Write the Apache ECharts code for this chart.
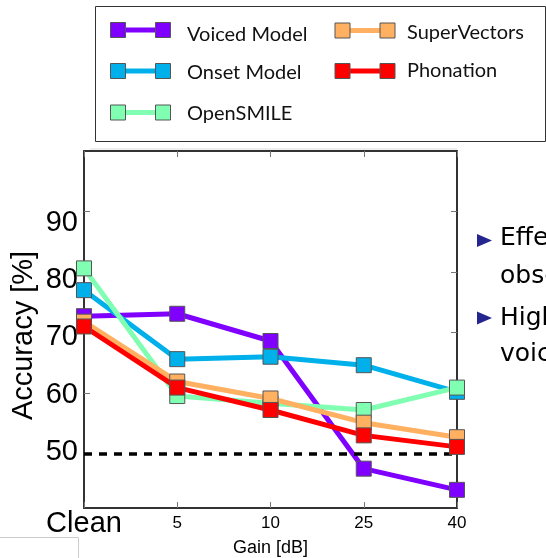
<!DOCTYPE html>
<html>
<head>
<meta charset="utf-8">
<script src="https://cdn.jsdelivr.net/npm/echarts@6/dist/echarts.min.js"></script>
<style>
  html, body { margin: 0; padding: 0; background: #fff; }
  #chart { width: 546px; height: 558px; }
</style>
</head>
<body>
<div id="chart"></div>
<script>
// gain conditions on the x axis
var categories = ['Clean', '5', '10', '25', '40'];

// accuracy [%] per model
var voicedModel = [72.7, 73.1, 68.6, 47.5, 44.0];
var onsetModel = [77.0, 65.6, 66.0, 64.6, 60.2];
var openSmile = [80.6, 59.5, 58.3, 57.2, 60.9];
var superVectors = [71.8, 61.9, 59.1, 55.1, 52.7];
var phonation = [71.0, 60.9, 57.2, 53.0, 51.1];

var chanceLevel = 50;
var yTicks = [50, 60, 70, 80, 90];

var seriesNames = ['Voiced Model', 'Onset Model', 'OpenSMILE', 'SuperVectors', 'Phonation'];
var seriesData = [voicedModel, onsetModel, openSmile, superVectors, phonation];
var colors = ['#7f00ff', '#00b0ea', '#80ffb3', '#ffb060', '#ff0000'];

var axisFont = 'Liberation Sans, Arial, sans-serif';
var axisLineStyle = { color: '#333', width: 2 };
var tickStyle = { color: '#777', width: 1 };

var chart = echarts.init(document.getElementById('chart'));

var series = seriesData.map(function (d, i) {
  var s = {
    name: seriesNames[i],
    type: 'line',
    data: d,
    symbol: 'rect',
    symbolSize: 15,
    z: 3 + i,
    lineStyle: { width: 5, color: colors[i] },
    itemStyle: { color: colors[i], borderColor: '#555', borderWidth: 1 }
  };
  if (i === 0) {
    s.markLine = {
      silent: true,
      symbol: ['none', 'none'],
      label: { show: false },
      lineStyle: { type: [8, 7], color: '#000', width: 3.5 },
      data: [{ yAxis: chanceLevel }]
    };
  }
  return s;
});

// legend drawn as graphic (two squares joined by a bar, like the slide)
var legendPos = [
  { x: 110.5, y: 30, tx: 187, ty: 35 },
  { x: 110.5, y: 71, tx: 187, ty: 72.5 },
  { x: 110.5, y: 112.5, tx: 187, ty: 114 },
  { x: 335, y: 30.5, tx: 407, ty: 32.5 },
  { x: 335, y: 71, tx: 407, ty: 71 }
];
var graphics = [
  { type: 'line', shape: { x1: 90, y1: 149, x2: 457, y2: 149 }, style: { stroke: '#ddd', lineWidth: 1 } },
  { type: 'polyline', shape: { points: [[0, 537.5], [78.5, 537.5], [78.5, 558]] }, style: { stroke: '#ccc', lineWidth: 1, fill: null } },
  { type: 'rect', shape: { x: 95.5, y: 6.5, width: 450, height: 135 }, style: { fill: '#fff', stroke: '#333', lineWidth: 1 } }
];
legendPos.forEach(function (p, i) {
  graphics.push({ type: 'rect', z: 10, shape: { x: p.x + 15, y: p.y - 2.5, width: 30, height: 5 }, style: { fill: colors[i] } });
  graphics.push({ type: 'rect', z: 11, shape: { x: p.x, y: p.y - 7.5, width: 15, height: 15 }, style: { fill: colors[i], stroke: '#555', lineWidth: 1 } });
  graphics.push({ type: 'rect', z: 11, shape: { x: p.x + 45, y: p.y - 7.5, width: 15, height: 15 }, style: { fill: colors[i], stroke: '#555', lineWidth: 1 } });
  graphics.push({ type: 'text', z: 11, style: { text: seriesNames[i], x: p.tx, y: p.ty, font: '20px Lato, sans-serif', fill: '#111', verticalAlign: 'middle' } });
});
// bullet text on the right of the slide (cut off by the crop)
var bullets = [
  { ty: 240.5, lines: [['Effect', 238], ['observed', 276]] },
  { ty: 318, lines: [['Higher', 318], ['voiced', 354.5]] }
];
bullets.forEach(function (b) {
  graphics.push({ type: 'polygon', shape: { points: [[477, b.ty - 6.5], [492, b.ty], [477, b.ty + 6.5]] }, style: { fill: '#25258f' } });
  b.lines.forEach(function (l) {
    graphics.push({ type: 'text', style: { text: l[0], x: 500, y: l[1], font: '25px "DejaVu Sans", sans-serif', fill: '#000', verticalAlign: 'middle' } });
  });
});

var option = {
  animation: false,
  backgroundColor: '#fff',
  grid: { left: 84, top: 151, width: 373, height: 357, containLabel: false, outerBoundsMode: 'none' },
  xAxis: [
    {
      type: 'category',
      data: categories,
      boundaryGap: false,
      axisLine: { lineStyle: axisLineStyle },
      axisTick: { inside: true, length: 6, lineStyle: tickStyle },
      axisLabel: {
        interval: 0,
        margin: 7,
        fontFamily: axisFont,
        fontSize: 17,
        color: '#000',
        lineHeight: 17,
        formatter: function (v, i) { return i === 0 ? '{big|' + v + '}' : v; },
        rich: { big: { fontFamily: axisFont, fontSize: 29, lineHeight: 17, color: '#000' } }
      },
      name: 'Gain [dB]',
      nameLocation: 'middle',
      nameGap: 31,
      nameMoveOverlap: false,
      nameTextStyle: { fontFamily: axisFont, fontSize: 18, color: '#000' },
      splitLine: { show: false }
    },
    {
      type: 'category',
      data: categories,
      boundaryGap: false,
      position: 'top',
      axisLine: { lineStyle: axisLineStyle },
      axisTick: { inside: true, length: 6, lineStyle: tickStyle },
      axisLabel: { show: false },
      splitLine: { show: false }
    }
  ],
  yAxis: [
    {
      type: 'value',
      min: 41,
      max: 100,
      position: 'left',
      axisLine: { show: true, lineStyle: axisLineStyle },
      axisTick: { show: true, inside: true, length: 6, lineStyle: tickStyle, customValues: yTicks },
      axisLabel: { show: false },
      splitLine: { show: false },
      name: 'Accuracy [%]',
      nameLocation: 'middle',
      nameRotate: 90,
      nameGap: 46,
      nameMoveOverlap: false,
      nameTextStyle: { fontFamily: axisFont, fontSize: 29, color: '#000', padding: [0, 12, 0, 0] }
    },
    {
      type: 'value',
      min: 41,
      max: 100,
      position: 'right',
      axisLine: { show: true, lineStyle: axisLineStyle },
      axisTick: { show: true, inside: true, length: 6, lineStyle: tickStyle, customValues: yTicks },
      axisLabel: { show: false },
      splitLine: { show: false }
    },
    {
      // tick labels on the slide sit on a slightly different scale than the ticks
      type: 'value',
      min: 40.29,
      max: 102.45,
      position: 'left',
      axisLine: { show: false },
      axisTick: { show: false },
      axisLabel: { show: true, margin: 6, fontFamily: axisFont, fontSize: 29, color: '#000', customValues: yTicks },
      splitLine: { show: false }
    }
  ],
  series: series,
  graphic: graphics
};

chart.setOption(option);
</script>
</body>
</html>
